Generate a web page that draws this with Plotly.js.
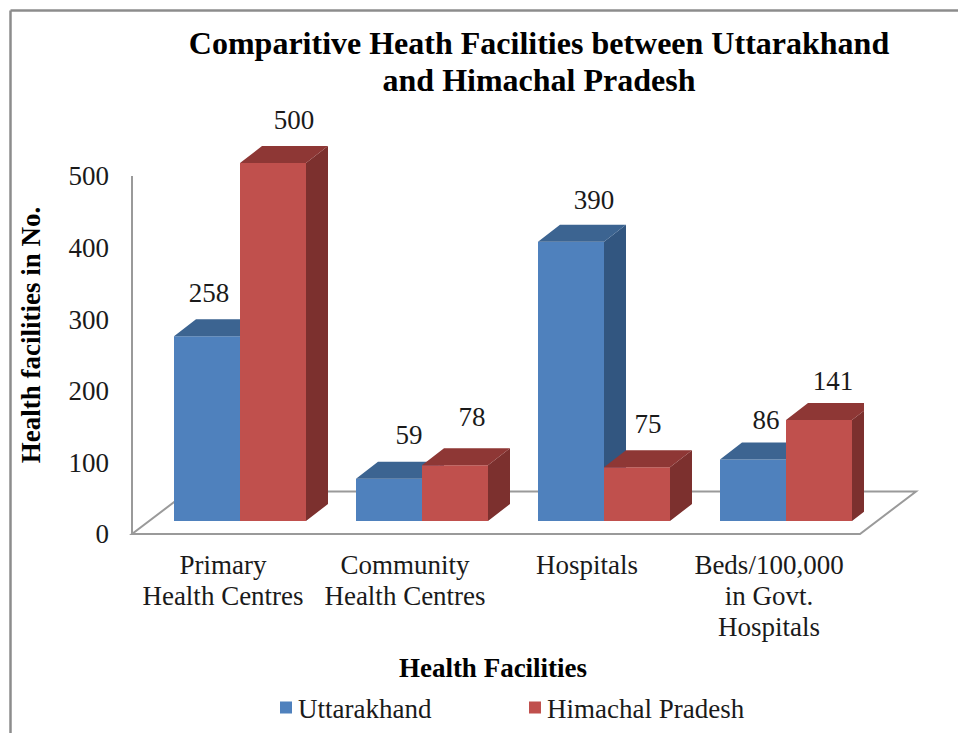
<!DOCTYPE html>
<html><head><meta charset="utf-8">
<script src="https://cdn.plot.ly/plotly-3.0.1.min.js"></script>
<style>html,body{margin:0;padding:0;background:#fff}#c{width:958px;height:733px}</style>
</head><body><div id="c"></div>
<script>
const categories = ["Primary<br>Health Centres","Community<br>Health Centres","Hospitals","Beds/100,000<br>in Govt.<br>Hospitals"];
const uttarakhand = [258,59,390,86];
const himachal = [500,78,75,141];
const yTicks = [0,100,200,300,400,500];
const seriesNames = ["Uttarakhand","Himachal Pradesh"];

// Oblique-projection geometry (pixels)
const W=958,H=733, L=122,R=864,T=100,AT=130,B=540;
const axisX=132, axisY=534, catPx=182, unitPx=0.716;
const basePx=13, depthX=22, depthY=17, barPx=66, firstBarPx=42;
const xr=[(L-axisX)/catPx,(R-axisX)/catPx], yr=[(axisY-B)/unitPx,(axisY-AT)/unitPx], yrText=[(axisY-B)/unitPx,(axisY-T)/unitPx];
const base=basePx/unitPx, dx=depthX/catPx, dy=depthY/unitPx, bw=barPx/catPx;
const px=v=>(v-L)/(R-L), py=v=>(B-v)/(B-T);

// Manual label nudges seen in the picture (pixels, from the bar's front-top centre)
const nudgeU=[[2,41],[20,42],[23,40],[13,37]], nudgeH=[[21,41],[17,46],[11,41],[14,37]];

function faces(vals,offset){
  const side={x:[],y:[]},top={x:[],y:[]};
  vals.forEach((v,i)=>{
    const x0=i+offset,x1=x0+bw,t=base+v;
    side.x.push(x1,x1+dx,x1+dx,x1,x1,null);
    side.y.push(base,base+dy,t+dy,t,base,null);
    top.x.push(x0,x0+dx,x1+dx,x1,x0,null);
    top.y.push(t,t+dy,t+dy,t,t,null);
  });
  return {side,top};
}
function series(name,vals,offset,front,topC,sideC,nudge,xa,ya){
  const f=faces(vals,offset);
  const poly=(g,c)=>({type:'scatter',mode:'lines',x:g.x,y:g.y,fill:'toself',fillcolor:c,
    line:{width:0,color:c},showlegend:false,hoverinfo:'skip',cliponaxis:false,xaxis:xa,yaxis:ya});
  return [
    {type:'bar',name:name,x:vals.map((v,i)=>i+offset+bw/2),y:vals,base:base,width:bw,
      marker:{color:front,line:{width:0}},cliponaxis:false,xaxis:xa,yaxis:ya,
      customdata:vals,hovertemplate:name+': %{customdata}<extra></extra>'},
    poly(f.side,sideC),poly(f.top,topC),
    {type:'scatter',mode:'text',x:vals.map((v,i)=>i+offset+bw/2+nudge[i][0]/catPx),
      y:vals.map((v,i)=>base+v+nudge[i][1]/unitPx),text:vals.map(String),textposition:'middle center',
      textfont:{family:'"Liberation Serif",serif',size:27,color:'#1a1a1a'},
      showlegend:false,hoverinfo:'skip',cliponaxis:false,xaxis:'x3',yaxis:'y3'}
  ];
}
const off0=firstBarPx/catPx;
const data=[
  ...series(seriesNames[0],uttarakhand,off0,'#4F81BD','#3C6491','#325680',nudgeU,'x','y'),
  ...series(seriesNames[1],himachal,off0+bw,'#C0504D','#8E3735','#7C302E',nudgeH,'x2','y2')
];
const gray='#9A9A9A';
const floorPath=[[axisX,axisY],[axisX+728,axisY],[axisX+784,axisY-42.5],[axisX+56,axisY-42.5]]
  .map((p,i)=>(i?'L':'M')+px(p[0])+','+py(p[1])).join(' ')+' Z';
const serif='"Liberation Serif",serif';
const domTop=(B-AT)/(B-T);
const layout={
  width:W,height:H,paper_bgcolor:'#fff',plot_bgcolor:'rgba(0,0,0,0)',
  margin:{l:L,r:W-R,t:T,b:H-B,pad:0},
  title:{text:'Comparitive Heath Facilities between Uttarakhand<br>and Himachal Pradesh',
    font:{family:serif,size:32,color:'#000',weight:'bold'},x:539/W,xanchor:'center',y:1-54/H,yanchor:'middle'},
  barmode:'overlay',
  xaxis:{range:xr,tickmode:'array',tickvals:categories.map((c,i)=>i+0.5),ticktext:categories,anchor:'y',
    tickfont:{family:serif,size:27,color:'#1a1a1a'},ticks:'',showgrid:false,zeroline:false,showline:false,
    ticklabelstandoff:6,
    title:{text:'Health Facilities',font:{family:serif,size:27,color:'#000',weight:'bold'},standoff:9},automargin:false},
  yaxis:{range:yr,domain:[0,domTop],tickmode:'array',tickvals:yTicks,tickfont:{family:serif,size:27,color:'#1a1a1a'},
    ticks:'',showgrid:false,zeroline:false,showline:false,ticklabelstandoff:12,
    title:{text:'Health facilities in No.',font:{family:serif,size:27,color:'#000',weight:'bold'},standoff:20},automargin:false},
  xaxis2:{range:xr,overlaying:'x',visible:false},
  yaxis2:{range:yr,domain:[0,domTop],overlaying:'y',visible:false},
  xaxis3:{range:xr,anchor:'y3',visible:false},
  yaxis3:{range:yrText,domain:[0,1],anchor:'x3',visible:false},
  legend:{orientation:'h',xref:'container',yref:'container',x:258/W,xanchor:'left',y:1-708/H,yanchor:'middle',
    font:{family:serif,size:27,color:'#1a1a1a'},entrywidth:204,entrywidthmode:'pixels',bgcolor:'rgba(0,0,0,0)',borderwidth:0},
  shapes:[
    {type:'path',xref:'paper',yref:'paper',path:floorPath,line:{color:gray,width:2},fillcolor:'rgba(0,0,0,0)',layer:'below'},
    {type:'line',xref:'paper',yref:'paper',x0:px(axisX),x1:px(axisX),y0:py(axisY),y1:py(axisY-500*unitPx),line:{color:gray,width:2},layer:'below'},
    {type:'line',xref:'paper',yref:'paper',x0:px(10.5),x1:px(958),y0:py(10.5),y1:py(10.5),line:{color:'#8C8C8C',width:2.5},layer:'below'},
    {type:'line',xref:'paper',yref:'paper',x0:px(10.5),x1:px(10.5),y0:py(10.5),y1:py(733),line:{color:'#8C8C8C',width:2.5},layer:'below'}
  ]
};
Plotly.newPlot('c',data,layout,{displayModeBar:false,responsive:false}).then(()=>{
  document.querySelectorAll('.legend .legendpoints path').forEach(p=>p.setAttribute('transform','translate(28,0)'));
  // tighten multi-line spacing to the reference's line height
  const tight=(sel,em)=>document.querySelectorAll(sel).forEach(t=>{
    const d=parseFloat(t.getAttribute('dy'));
    if(d) t.setAttribute('dy',(d/1.3*em)+'em');
  });
  tight('.xtick tspan.line',1.15);
  tight('.gtitle tspan.line',1.156);
});
</script></body></html>
